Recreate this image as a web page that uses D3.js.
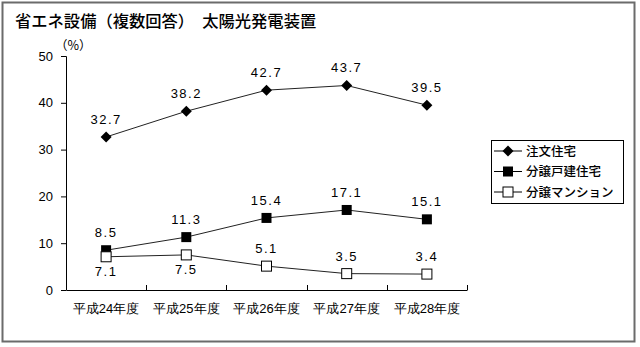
<!DOCTYPE html>
<html><head><meta charset="utf-8">
<script src="https://cdn.jsdelivr.net/npm/d3@7"></script>
<style>
body{margin:0;background:#fff;}
svg{display:block;font-family:"Noto Sans CJK JP",sans-serif;}
</style></head>
<body>
<svg id="c" width="640" height="347"></svg>
<script>
const title = "省エネ設備（複数回答）　太陽光発電装置";
const unitLabel = "（%）";
const categories = ["平成24年度","平成25年度","平成26年度","平成27年度","平成28年度"];
const seriesNames = ["注文住宅","分譲戸建住宅","分譲マンション"];
const chumon = [32.7, 38.2, 42.7, 43.7, 39.5];
const bunjoKodate = [8.5, 11.3, 15.4, 17.1, 15.1];
const bunjoMansion = [7.1, 7.5, 5.1, 3.5, 3.4];
const yTicks = [0, 10, 20, 30, 40, 50];
// label placement: "above" or "below"
const mansionLabelPos = ["below","below","above","above","above"];

const series = [
  {name: seriesNames[0], values: chumon, marker: "diamond", labelPos: chumon.map(()=> "above")},
  {name: seriesNames[1], values: bunjoKodate, marker: "filledSquare", labelPos: bunjoKodate.map(()=> "above")},
  {name: seriesNames[2], values: bunjoMansion, marker: "openSquare", labelPos: mansionLabelPos}
];

const svg = d3.select("#c");
// outer frame
svg.append("rect").attr("x",2.5).attr("y",2.5).attr("width",632).attr("height",339)
  .attr("fill","none").attr("stroke","#6b6b6b").attr("stroke-width",2);

svg.append("text").attr("x",15).attr("y",27).attr("font-size",16.3).attr("font-weight",500).attr("fill","#000").text(title);
svg.append("text").attr("x",55).attr("y",50).attr("font-size",12.5).attr("fill","#000").text(unitLabel);

const x = d3.scaleBand().domain(categories).range([66, 467]);
const y = d3.scaleLinear().domain([0, 50]).range([290, 56]);

const yAxis = d3.axisLeft(y).tickValues(yTicks).tickSize(5).tickPadding(8);
const gy = svg.append("g").attr("transform","translate(66,0)").call(yAxis);
gy.select(".domain").attr("stroke","#000").attr("d","M-5,56.5H0.5V290.5");
gy.selectAll(".tick line").attr("stroke","#000");
gy.selectAll(".tick text").attr("font-family","'Liberation Sans',Arial,sans-serif").attr("font-size",13).attr("fill","#000");

const xAxis = d3.axisBottom(x).tickSize(0).tickPadding(14);
const gx = svg.append("g").attr("transform","translate(0,290)").call(xAxis);
gx.select(".domain").attr("stroke","#000");
gx.selectAll(".tick text").attr("font-size",13).attr("font-weight",500).attr("fill","#000");
// category separator ticks (between bands)
const edges = categories.map(c => x(c)).concat([x.range()[1]]);
gx.selectAll(".sep").data(edges).enter().append("line").attr("class","sep")
  .attr("x1", d=>Math.round(d)+0.5).attr("x2", d=>Math.round(d)+0.5)
  .attr("y1",0).attr("y2",-5).attr("stroke","#000");

const cx = c => x(c) + x.bandwidth()/2;
const line = d3.line().x((d,i)=>cx(categories[i])).y(d=>y(d));

function drawMarker(g, type, px, py){
  if(type==="diamond"){
    g.append("path").attr("d", `M${px},${py-5.5}L${px+5.5},${py}L${px},${py+5.5}L${px-5.5},${py}Z`)
      .attr("fill","#000");
  } else if(type==="filledSquare"){
    g.append("rect").attr("x",px-5).attr("y",py-5).attr("width",10).attr("height",10).attr("fill","#000");
  } else {
    g.append("rect").attr("x",px-5).attr("y",py-5).attr("width",10).attr("height",10)
      .attr("fill","#fff").attr("stroke","#000").attr("stroke-width",1);
  }
}

const fmt = d3.format(".1f");
series.forEach(s => {
  const g = svg.append("g");
  g.append("path").datum(s.values).attr("d", line).attr("fill","none").attr("stroke","#222").attr("stroke-width",1);
  s.values.forEach((v,i) => drawMarker(g, s.marker, cx(categories[i]), y(v)));
  g.selectAll(".lbl").data(s.values).enter().append("text")
    .attr("x",(d,i)=>cx(categories[i]))
    .attr("y",(d,i)=> s.labelPos[i]==="above" ? y(d)-13 : y(d)+19)
    .attr("text-anchor","middle")
    .attr("font-family","'Liberation Sans Narrow','Liberation Sans',Arial,sans-serif")
    .attr("font-size",13).attr("letter-spacing",1.5).attr("fill","#000")
    .text(d=>fmt(d));
});

// legend
const lg = svg.append("g");
lg.append("rect").attr("x",491.5).attr("y",140.5).attr("width",132).attr("height",63)
  .attr("fill","#fff").attr("stroke","#000").attr("stroke-width",1);
series.forEach((s,i) => {
  const ly = 151 + i*20.5;
  lg.append("line").attr("x1",494).attr("x2",522).attr("y1",ly).attr("y2",ly).attr("stroke","#000");
  drawMarker(lg, s.marker, 508, ly);
  lg.append("text").attr("x",526).attr("y",ly+4.5).attr("font-size",12.5).attr("font-weight",500).attr("fill","#000").text(s.name);
});
</script>
</body></html>
